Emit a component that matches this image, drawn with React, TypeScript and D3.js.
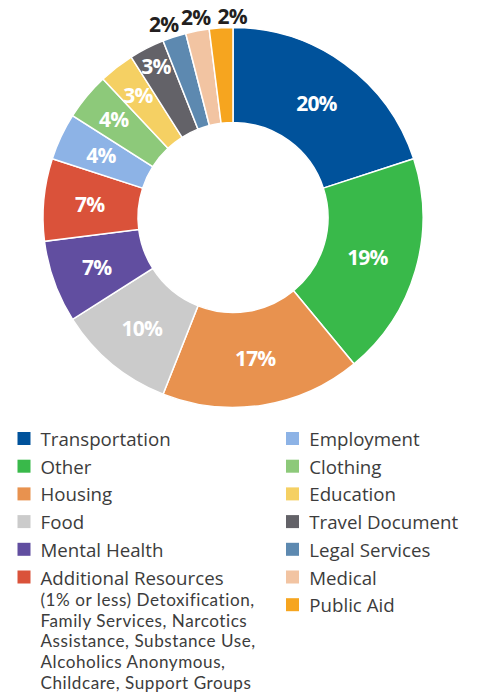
import React from "react";
import * as d3 from "d3";

const categories = [
  "Transportation", "Other", "Housing", "Food", "Mental Health", "Additional Resources",
  "Employment", "Clothing", "Education", "Travel Document", "Legal Services", "Medical", "Public Aid",
];
const values = [20, 19, 17, 10, 7, 7, 4, 4, 3, 3, 2, 2, 2];
const colors = [
  "#00529B", "#39B94A", "#E8924F", "#CBCBCB", "#614EA0", "#DA523A",
  "#8DB3E6", "#8DC97A", "#F5D063", "#636268", "#5D89B0", "#F2C4A2", "#F6A51F",
];
const additionalNote = [
  "(1% or less) Detoxification,",
  "Family Services, Narcotics",
  "Assistance, Substance Use,",
  "Alcoholics Anonymous,",
  "Childcare, Support Groups",
];

// label layout (radius per slice; outside labels use offsets)
const labelRadius = [142, 140, 142, 143, 145, 144, 146, 155, 155, 170, 205, 205, 205];
const outsideOffset: Record<number, [number, number]> = {
  10: [-6, 1.5],
  11: [1, 1],
  12: [12, 3],
};

export default function App() {
  const W = 477, H = 694;
  const cx = 233, cy = 217.5;
  const rOuter = 190, rInner = 95;
  const pie = d3.pie<number>().sort(null).value((d) => d);
  const arcs = pie(values);
  const arc = d3.arc<d3.PieArcDatum<number>>().innerRadius(rInner).outerRadius(rOuter);

  const labelFont = "'Open Sans', 'DejaVu Sans', sans-serif";
  const legendFont = "'Open Sans', 'DejaVu Sans', sans-serif";
  const noteFont = "Lato, 'Open Sans', sans-serif";

  const leftCols = [0, 1, 2, 3, 4, 5];
  const rightCols = [6, 7, 8, 9, 10, 11, 12];
  const rowY = d3.scaleLinear().domain([0, 1]).range([438.5, 466.2]);

  return (
    <svg width={W} height={H} style={{ position: "absolute", left: 0, top: 0, background: "#fff" }}>
      <g transform={`translate(${cx},${cy})`}>
        {arcs.map((a, i) => (
          <path key={i} d={arc(a) || ""} fill={colors[i]} stroke="#fff" strokeWidth={1.5} />
        ))}
        {arcs.map((a, i) => {
          const mid = (a.startAngle + a.endAngle) / 2;
          const r = labelRadius[i];
          let x = r * Math.sin(mid);
          let y = -r * Math.cos(mid);
          const outside = outsideOffset[i] !== undefined;
          if (outside) {
            x += outsideOffset[i][0];
            y += outsideOffset[i][1];
          }
          return (
            <text
              key={"l" + i}
              x={x}
              y={y}
              textAnchor="middle"
              dominantBaseline="central"
              fontFamily={labelFont}
              fontWeight={700}
              fontSize={21}
              letterSpacing={-0.8}
              fill={outside ? "#231F20" : "#fff"}
            >
              {values[i]}%
            </text>
          );
        })}
      </g>
      <g fontFamily={legendFont} fill="#3c3c3c">
        {leftCols.map((ci, k) => (
          <g key={"L" + ci}>
            <rect x={17.5} y={rowY(k) - 6.5} width={13} height={13} fill={colors[ci]} />
            <text x={40.5} y={rowY(k)} dominantBaseline="central" fontSize={18.7}>
              {categories[ci]}
            </text>
          </g>
        ))}
        {additionalNote.map((t, j) => (
          <text
            key={"n" + j}
            x={40.5}
            y={606 + j * 20.7}
            fontFamily={noteFont}
            fontSize={17.1}
            letterSpacing={0.55}
          >
            {t}
          </text>
        ))}
        {rightCols.map((ci, k) => (
          <g key={"R" + ci}>
            <rect x={286} y={rowY(k) - 6.5} width={13} height={13} fill={colors[ci]} />
            <text x={309.3} y={rowY(k)} dominantBaseline="central" fontSize={18.7}>
              {categories[ci]}
            </text>
          </g>
        ))}
      </g>
    </svg>
  );
}
